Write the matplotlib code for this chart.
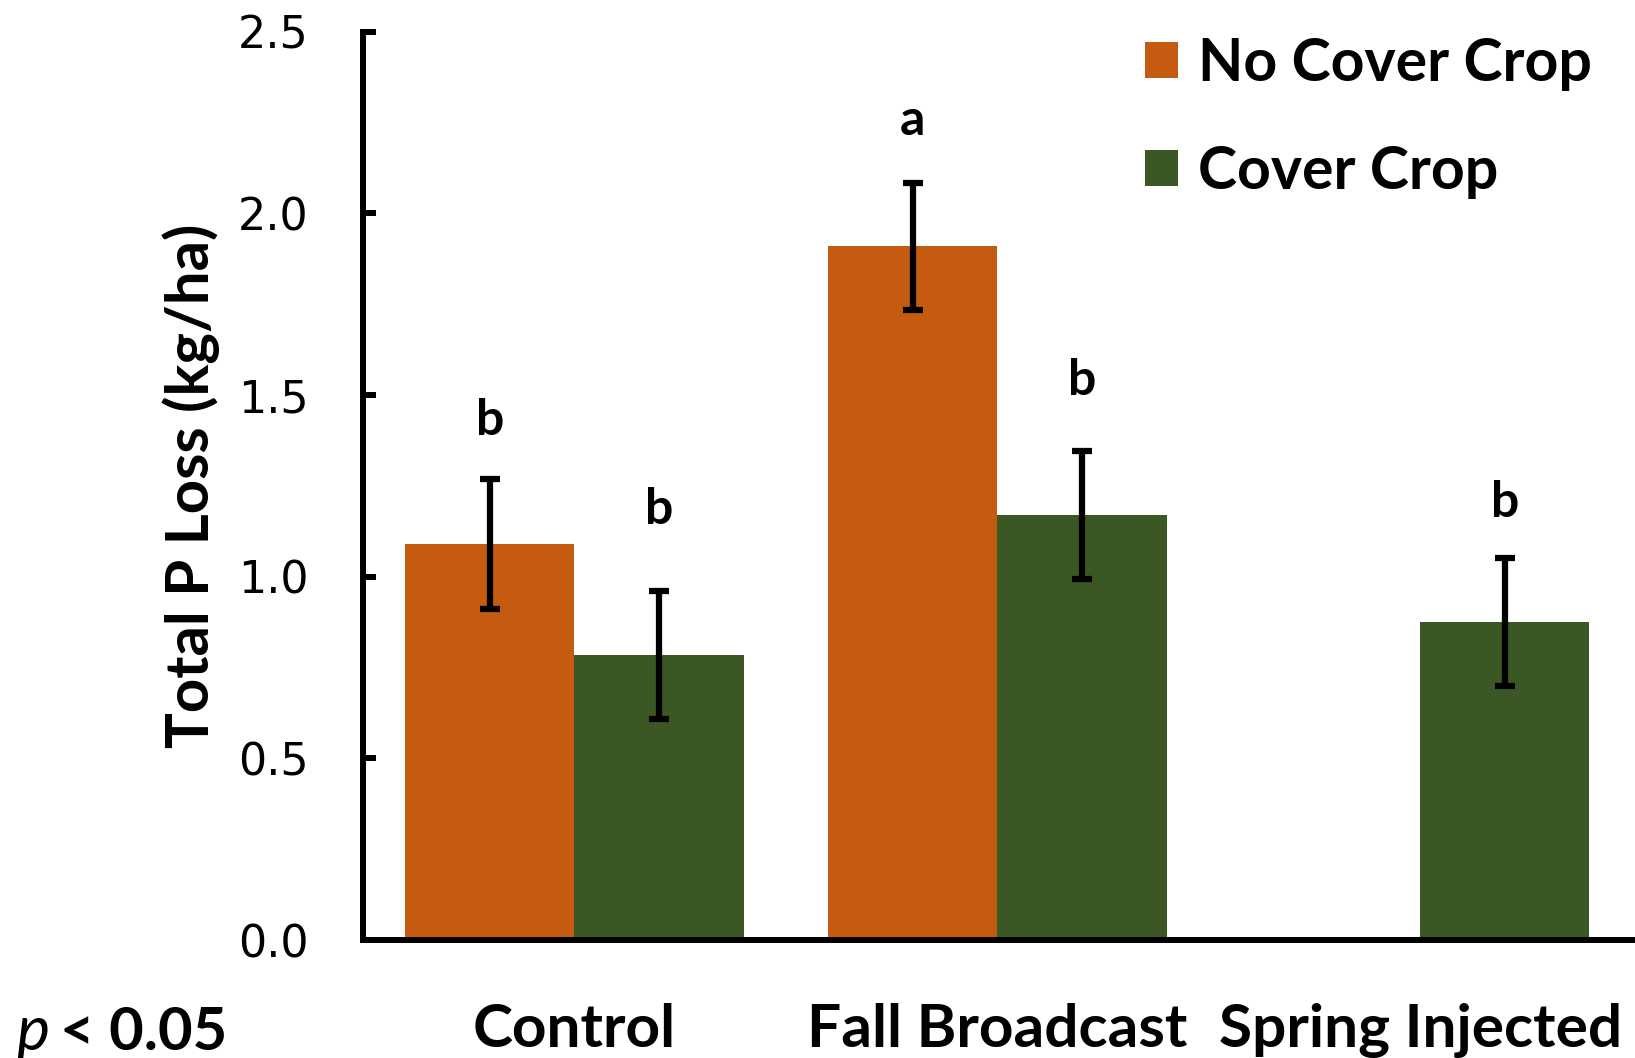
import numpy as np
import matplotlib
matplotlib.use("Agg")
import matplotlib.pyplot as plt

# data: total P loss by manure treatment, with/without cover crop
treatments = ["Control", "Fall Broadcast", "Spring Injected"]
no_cover = [1.09, 1.91, np.nan]
no_cover_err = [0.18, 0.175, np.nan]
cover = [0.785, 1.17, 0.875]
cover_err = [0.177, 0.177, 0.177]
letters_no_cover = ["b", "a", ""]
letters_cover = ["b", "b", "b"]
letter_y_no_cover = [1.43, 2.255, np.nan]
letter_y_cover = [1.185, 1.54, 1.205]

ORANGE = "#C55A11"
GREEN = "#3B5724"
BOLD_FONT = "Lato"

fig = plt.figure(figsize=(16.35, 10.58), dpi=100)
ax = fig.add_axes([0.222, 0.1115, 0.776, 0.8585])

x = np.arange(len(treatments))
w = 0.4
err_kw = dict(elinewidth=4.5, capsize=7, capthick=4.5, ecolor="black")
b1 = ax.bar(x - w / 2, no_cover, w, color=ORANGE, label="No Cover Crop",
            yerr=no_cover_err, error_kw=err_kw)
b2 = ax.bar(x + w / 2, cover, w, color=GREEN, label="Cover Crop",
            yerr=cover_err, error_kw=err_kw)

# significance letters
for xi, lab, ly in zip(x - w / 2, letters_no_cover, letter_y_no_cover):
    if lab:
        ax.text(xi, ly, lab, ha="center", va="center", fontsize=36,
                fontweight="bold", family=BOLD_FONT)
for xi, lab, ly in zip(x + w / 2, letters_cover, letter_y_cover):
    ax.text(xi, ly, lab, ha="center", va="center", fontsize=36,
            fontweight="bold", family=BOLD_FONT)

ax.set_xlim(-0.5, 2.5)
ax.set_ylim(0, 2.5)
ax.set_yticks(np.arange(0, 2.51, 0.5))
ax.set_yticklabels([f"{v:.1f}" for v in np.arange(0, 2.51, 0.5)],
                   fontsize=32, family="DejaVu Sans")
ax.set_xticks(x)
ax.set_xticklabels(treatments, fontsize=43.5, fontweight="bold", family=BOLD_FONT)
ax.tick_params(axis="y", direction="in", length=9, width=4.3, pad=39)
ax.tick_params(axis="x", length=0, pad=45)

for s in ["top", "right"]:
    ax.spines[s].set_visible(False)
ax.spines["left"].set_linewidth(4.3)
ax.spines["bottom"].set_linewidth(4.3)

ax.set_ylabel("Total P Loss (kg/ha)", fontsize=43, fontweight="bold",
              family=BOLD_FONT)
ax.yaxis.set_label_coords(-0.1125, 0.5)

fig.legend(handles=[b1, b2], loc="upper left", bbox_to_anchor=(0.700, 0.965),
           frameon=False, prop={"family": BOLD_FONT, "weight": "bold", "size": 42.5},
           handlelength=0.56, handleheight=0.56, handletextpad=0.35,
           labelspacing=0.92, borderpad=0, borderaxespad=0)

# p-value note
fig.text(16 / 1635, 1 - 1050 / 1058, "p", fontsize=45, style="italic",
         family=BOLD_FONT, va="baseline")
fig.text(60 / 1635, 1 - 1050 / 1058, "< 0.05", fontsize=43, fontweight="bold",
         family=BOLD_FONT, va="baseline")

fig.savefig("out.png", dpi=100)
